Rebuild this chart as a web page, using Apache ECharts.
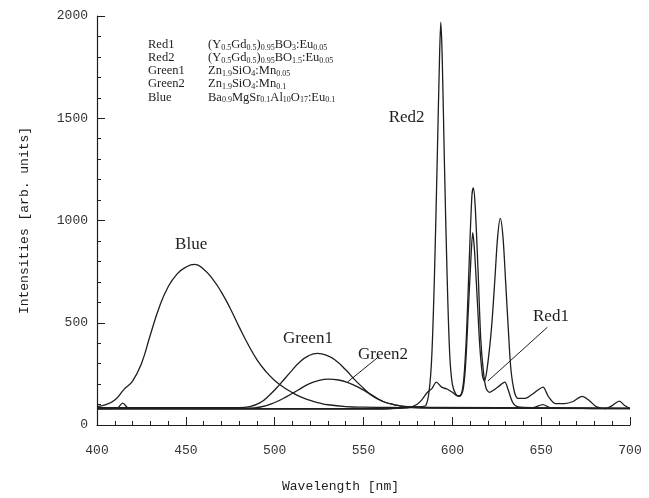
<!DOCTYPE html>
<html><head><meta charset="utf-8">
<script src="https://cdn.jsdelivr.net/npm/echarts@6/dist/echarts.min.js"></script>
<style>html,body{margin:0;padding:0;background:#fff}#c{width:649px;height:498px}</style>
</head><body><div id="c"></div>
<script>
// ---- data ----
const xTicks = [400, 450, 500, 550, 600, 650, 700];
const yTicks = [0, 500, 1000, 1500, 2000];

const blueNm  = [400,405,410,415,420,425,430,435,440,445,450,455,460,465,470,475,480,485,490,495,500,505,510,515,520,525,530,540,550,575,600,650,700];
const blueVal = [90,100,122,172,215,300,440,575,675,738,772,785,762,715,650,570,480,395,320,262,218,185,158,136,120,108,99,90,87,85,83,82,80];

const green1Nm  = [400,480,486,492,497,503,509,514,519,524,529,534,540,545,550,555,561,567,575,590,700];
const green1Val = [85,85,90,110,145,200,260,307,338,350,342,318,270,222,180,142,115,100,90,86,83];

const green2Nm  = [400,485,492,500,507,513,519,525,530,536,542,548,555,561,567,575,590,700];
const green2Val = [82,82,88,110,140,170,200,218,224,220,205,180,145,115,100,88,83,81];

const red1Nm  = [400,411,414.5,418,560,575,580,583,586,588.5,591,594,597,600,603,605,606.5,608,609.5,611,611.8,612.8,614.5,616,617.5,619,621,624,627,629.5,631.5,634,637,645,651,655,700];
const red1Val = [80,81,107,81,80,84,100,125,160,178,210,185,176,160,142,150,230,450,800,1120,1160,1080,750,420,260,180,160,175,195,210,170,110,88,85,100,85,80];

const red2Nm  = [400,560,576,582,585,587,588.5,590,591.5,592.8,593.5,594.3,595.5,597,598.5,600,602,604,606,607.5,609,610.5,611.5,612.5,614,615.5,617,618,619.5,622,624,625.5,627,628.5,630,631.5,633,635,637,641,645,648,651,654,658,663,668,673,677,681,686,690,694,697,700];
const red2Val = [78,78,88,90,95,170,350,750,1300,1800,1970,1800,1300,750,350,200,150,140,170,300,560,820,940,850,620,380,240,215,270,470,720,920,1010,920,700,470,270,160,130,130,150,170,185,140,105,105,115,140,120,90,80,95,117,95,80];

const legendNames = ['Red1', 'Red2', 'Green1', 'Green2', 'Blue'];
const legendFormulas = [
  '(Y{s|0.5}Gd{s|0.5}){s|0.95}BO{s|3}:Eu{s|0.05}',
  '(Y{s|0.5}Gd{s|0.5}){s|0.95}BO{s|1.5}:Eu{s|0.05}',
  'Zn{s|1.9}SiO{s|4}:Mn{s|0.05}',
  'Zn{s|1.9}SiO{s|4}:Mn{s|0.1}',
  'Ba{s|0.9}MgSr{s|0.1}Al{s|10}O{s|17}:Eu{s|0.1}'
];

// ---- chart ----
const zip = (a, b) => a.map((v, i) => [v, b[i]]);
const ink = '#1e1e1e';
const serif = '"Liberation Serif", "DejaVu Serif", serif';
const mono = '"Liberation Mono", "DejaVu Sans Mono", monospace';

function labelPoint(name, coord) {
  return {
    symbol: 'rect', symbolSize: 1, itemStyle: { color: 'rgba(0,0,0,0)' },
    label: { show: true, position: 'inside', formatter: name, color: ink, fontFamily: serif, fontSize: 17 },
    data: [{ coord: coord }]
  };
}
function leader(a, b) {
  return {
    symbol: ['none', 'none'], silent: true, label: { show: false },
    lineStyle: { color: ink, width: 1, type: 'solid' },
    data: [[{ coord: a }, { coord: b }]]
  };
}
const baseLine = { type: 'line', showSymbol: false, smooth: 0.3, lineStyle: { color: ink, width: 1.3 }, itemStyle: { color: ink }, z: 3 };
const broad = Object.assign({}, baseLine, { smooth: 0.5 });

const graphic = [];
legendNames.forEach((n, i) => {
  const top = 38 + i * 13.2;
  graphic.push({ type: 'text', left: 148, top: top, style: { text: n, fill: ink, font: '12.5px ' + serif } });
  graphic.push({ type: 'text', left: 208, top: top, style: {
    text: legendFormulas[i], fill: ink, font: '12.5px ' + serif,
    rich: { s: { fontSize: 8, fontFamily: serif, verticalAlign: 'bottom', fill: ink, padding: [6, 0, 0, 0] } }
  } });
});

const chart = echarts.init(document.getElementById('c'));
chart.setOption({
  backgroundColor: '#fff',
  animation: false,
  grid: { left: 97, right: 19, top: 16, bottom: 72, containLabel: false },
  xAxis: {
    type: 'value', min: xTicks[0], max: xTicks[xTicks.length - 1], interval: 50,
    name: 'Wavelength [nm]', nameLocation: 'middle', nameGap: 55,
    nameTextStyle: { fontFamily: mono, fontSize: 13, color: ink, padding: [0, 46, 0, 0] },
    axisLine: { lineStyle: { color: ink, width: 1.2 } },
    axisTick: { inside: true, length: 8, lineStyle: { color: ink } },
    minorTick: { show: true, splitNumber: 5, length: 4, lineStyle: { color: ink } },
    axisLabel: { margin: 19, fontFamily: mono, fontSize: 13, color: '#333', formatter: v => String(v) },
    splitLine: { show: false }
  },
  yAxis: {
    type: 'value', min: yTicks[0], max: yTicks[yTicks.length - 1], interval: 500,
    name: 'Intensities [arb. units]', nameLocation: 'middle', nameGap: 66,
    nameTextStyle: { fontFamily: mono, fontSize: 13, color: ink },
    axisLine: { show: true, lineStyle: { color: ink, width: 1.2 } },
    axisTick: { show: true, inside: true, length: 8, lineStyle: { color: ink } },
    minorTick: { show: true, splitNumber: 5, length: 4, lineStyle: { color: ink } },
    axisLabel: { margin: 9, fontFamily: mono, fontSize: 13, color: '#333', formatter: v => String(v) },
    splitLine: { show: false }
  },
  graphic: graphic,
  series: [
    Object.assign({}, broad, { name: 'Blue', data: zip(blueNm, blueVal), markPoint: labelPoint('Blue', [453, 883]) }),
    Object.assign({}, broad, { name: 'Green1', data: zip(green1Nm, green1Val), markPoint: labelPoint('Green1', [518.7, 424]) }),
    Object.assign({}, broad, { name: 'Green2', data: zip(green2Nm, green2Val), markPoint: labelPoint('Green2', [561, 346]), markLine: leader([541, 210], [559, 337]) }),
    Object.assign({}, baseLine, { name: 'Red1', data: zip(red1Nm, red1Val), markPoint: labelPoint('Red1', [655.5, 532]), markLine: leader([620, 215], [653.5, 478]) }),
    Object.assign({}, baseLine, { name: 'Red2', data: zip(red2Nm, red2Val), markPoint: labelPoint('Red2', [574.3, 1502]) })
  ]
});
</script></body></html>
